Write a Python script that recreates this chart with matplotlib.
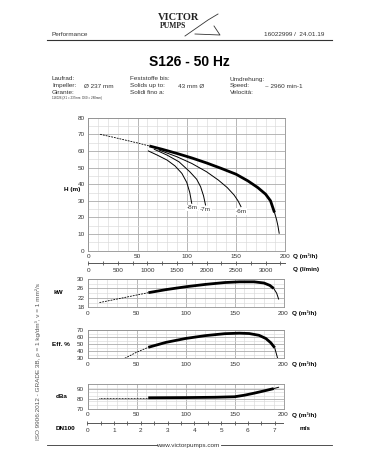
import numpy as np
import matplotlib
matplotlib.use('Agg')
import matplotlib.pyplot as plt
from matplotlib.ticker import MultipleLocator, FixedLocator

plt.rcParams['font.family'] = ['Liberation Sans', 'DejaVu Sans']

# --- data ---
q_head = [12, 25, 40, 50, 62, 75, 90, 105, 120, 135, 150, 162, 172, 180, 185, 189, 191, 192.5, 193.8]
head = [70, 68.3, 66.2, 64.8, 63, 61, 58.5, 55.8, 52.8, 49.5, 46, 42, 38, 34, 30, 23, 19, 15, 10.5]

q_npsh8 = [61, 70, 80, 88, 95, 100, 103, 105]
h_npsh8 = [60, 57.5, 54.5, 51, 46.5, 41, 35, 28.5]
q_npsh7 = [67, 80, 92, 103, 110, 114, 117, 119]
h_npsh7 = [61, 57.5, 53.5, 47.5, 43, 38.5, 33, 27.5]
q_npsh6 = [72, 90, 105, 120, 132, 141, 148, 152, 155]
h_npsh6 = [60.5, 56.5, 52.5, 47.5, 42.5, 38, 33.5, 30, 26.5]
npsh_labels = ['-8m', '-7m', '-6m']

q_power = [12, 30, 50, 62, 80, 100, 120, 140, 155, 170, 180, 186, 190, 193, 195]
power = [20, 21.5, 23.2, 24.2, 25.5, 26.7, 27.7, 28.5, 28.8, 28.8, 28.3, 27.3, 26, 24, 21.5]

q_eff = [38, 50, 62, 80, 100, 120, 140, 155, 165, 175, 182, 187, 191, 194]
eff = [30, 38.5, 45.5, 52.5, 58, 62, 64.8, 65.5, 65, 62.5, 58, 52, 45, 30]

q_noise = [12, 62, 100, 130, 150, 160, 170, 180, 190, 195]
noise = [81, 81, 81.2, 81.5, 82, 83.5, 85.5, 87.7, 90, 91.3]

FW, FH = 378, 472
fig = plt.figure(figsize=(FW / 100, FH / 100), dpi=100)

FS = 4.6
GREY = '#333333'


def box(l, t, r, b):
    return [l / FW, 1 - b / FH, (r - l) / FW, (b - t) / FH]


def px(x, y):
    return x / FW, 1 - y / FH


def chart(rect, ylim, yticks, yminor):
    ax = fig.add_axes(rect)
    ax.set_xlim(0, 200)
    ax.set_ylim(*ylim)
    ax.xaxis.set_major_locator(MultipleLocator(50))
    ax.xaxis.set_minor_locator(MultipleLocator(10))
    ax.yaxis.set_major_locator(FixedLocator(yticks))
    ax.yaxis.set_minor_locator(FixedLocator(yminor))
    ax.grid(which='minor', color='#d9d9d9', lw=0.45)
    ax.grid(which='major', color='#ababab', lw=0.6)
    ax.set_axisbelow(True)
    ax.tick_params(which='both', length=0, labelsize=FS, colors=GREY, pad=2.5)
    for s in ax.spines.values():
        s.set_color('#909090')
        s.set_linewidth(0.6)
    return ax


def curve(ax, q, v, lo, hi, dash=(0, (2.2, 1.2))):
    q = np.array(q)
    v = np.array(v)
    m1 = q <= lo
    m2 = (q >= lo) & (q <= hi)
    m3 = q >= hi
    ax.plot(q[m1], v[m1], color='k', lw=0.6, ls=dash)
    ax.plot(q[m2], v[m2], color='k', lw=2.0, solid_capstyle='butt')
    ax.plot(q[m3], v[m3], color='k', lw=0.7)


def scale_axis(rect, xlim, major, minor):
    ax = fig.add_axes(rect)
    ax.set_xlim(*xlim)
    ax.set_ylim(0, 1)
    ax.patch.set_visible(False)
    for k in ('top', 'left', 'right'):
        ax.spines[k].set_visible(False)
    ax.spines['bottom'].set_color('#555555')
    ax.spines['bottom'].set_linewidth(0.7)
    ax.set_yticks([])
    ax.xaxis.set_major_locator(MultipleLocator(major))
    ax.xaxis.set_minor_locator(MultipleLocator(minor))
    ax.tick_params(which='both', direction='inout', length=3, width=0.6,
                   color='#555555', labelsize=FS, labelcolor=GREY, pad=2)
    return ax


# --- header ---
fig.text(*px(158, 17.5), 'VICTOR', fontsize=7.5, fontweight='bold',
         family='Liberation Serif', va='center', ha='left', color='#222222')
fig.text(*px(160, 26.5), 'PUMPS', fontsize=5.5, fontweight='bold',
         family='Liberation Serif', va='center', ha='left', color='#222222')
fig.add_artist(plt.Line2D([185 / FW, 208 / FW, 218 / FW], [1 - 36 / FH, 1 - 20 / FH, 1 - 14 / FH],
                          color='#333333', lw=0.6))
fig.add_artist(plt.Line2D([195 / FW, 220 / FW, 214 / FW], [1 - 34 / FH, 1 - 35 / FH, 1 - 26 / FH],
                          color='#333333', lw=0.6))
fig.text(*px(52, 35), 'Performance', fontsize=FS, va='center', ha='left', color=GREY)
fig.text(*px(324, 35), '16022999 /  24.01.19', fontsize=FS, va='center', ha='right', color=GREY)
fig.add_artist(plt.Line2D([47 / FW, 332 / FW], [1 - 39.7 / FH] * 2, color='#333333', lw=0.8))
fig.text(*px(189.5, 61.5), 'S126 - 50 Hz', fontsize=10, fontweight='bold', ha='center', va='center')

info = [
    (52, 79, 'Laufrad:'), (52, 86, 'Impeller:'), (84, 86, 'Ø 237 mm'), (52, 93, 'Girante:'),
    (130, 79, 'Feststoffe bis:'), (130, 86, 'Solids up to:'), (178, 86, '43 mm Ø'),
    (130, 93, 'Solidi fino a:'),
    (230, 79, 'Umdrehung:'), (230, 86, 'Speed:'), (265, 86, '~ 2960 min-1'), (230, 93, 'Velocità:'),
]
for x, y, t in info:
    fig.text(*px(x, y), t, fontsize=FS, va='center', ha='left', color=GREY)
fig.text(*px(52, 98.5), '116026 (X1 = 237mm  D60 = 280mm)', fontsize=2.2, va='center', ha='left', color=GREY)

# --- head chart ---
ax_h = chart(box(88.3, 117.7, 285.3, 250.7), (0, 80), np.arange(0, 81, 10), np.arange(5, 80, 10))
curve(ax_h, q_head, head, 62, 189)
for q, h, lab in zip([q_npsh8, q_npsh7, q_npsh6], [h_npsh8, h_npsh7, h_npsh6], npsh_labels):
    ax_h.plot(q, h, color='k', lw=0.7)
    ax_h.text(q[-1], h[-1] - 2.8, lab, fontsize=FS, ha='center', va='center', color=GREY,
              bbox=dict(facecolor='white', edgecolor='none', pad=0.6))
fig.text(*px(80, 190), 'H (m)', fontsize=FS, fontweight='bold', ha='right', va='center')
fig.text(*px(293, 256.5), 'Q (m³/h)', fontsize=FS, fontweight='bold', ha='left', va='center')

ax_l = scale_axis(box(88.3, 261.7, 285.3, 262.7), (0, 200 * 1000 / 60), 500, 250)
fig.text(*px(293, 269.5), 'Q (l/min)', fontsize=FS, fontweight='bold', ha='left', va='center')

# --- power ---
ax_p = chart(box(87.7, 279, 283.5, 307.3), (18, 30), [18, 22, 26, 30], [20, 24, 28])
curve(ax_p, q_power, power, 62, 190)
fig.text(*px(58, 293), 'kW', fontsize=FS, fontweight='bold', ha='center', va='center')
fig.text(*px(292, 313), 'Q (m³/h)', fontsize=FS, fontweight='bold', ha='left', va='center')

# --- efficiency ---
ax_e = chart(box(87.5, 330, 283.5, 358.3), (30, 70), np.arange(30, 71, 10), np.arange(35, 70, 10))
curve(ax_e, q_eff, eff, 62, 191)
fig.text(*px(61, 344), 'Eff. %', fontsize=FS, fontweight='bold', ha='center', va='center')
fig.text(*px(292, 364.5), 'Q (m³/h)', fontsize=FS, fontweight='bold', ha='left', va='center')

# --- noise ---
ax_n = chart(box(87.5, 383.5, 283.5, 409), (70, 95), [70, 80, 90], np.linspace(70, 95, 7))
curve(ax_n, q_noise, noise, 62, 190, dash=(0, (1, 0.8)))
fig.text(*px(61.5, 396.5), 'dBa', fontsize=FS, fontweight='bold', ha='center', va='center')
fig.text(*px(292, 415), 'Q (m³/h)', fontsize=FS, fontweight='bold', ha='left', va='center')

# --- velocity DN100 ---
ax_v = scale_axis(box(87.3, 421.7, 283.5, 422.7), (0, 196.2 / 26.77), 1, 0.5)
fig.text(*px(65.5, 429), 'DN100', fontsize=FS, fontweight='bold', ha='center', va='center')
fig.text(*px(300, 429), 'm/s', fontsize=FS, fontweight='bold', ha='left', va='center')

fig.text(*px(38, 362), 'ISO 9906:2012 - GRADE 3B, ρ = 1 kg/dm³, ν = 1 mm²/s', fontsize=FS,
         rotation=90, ha='center', va='center', color='#555555')

# --- footer ---
fig.text(*px(188, 445), 'www.victorpumps.com', fontsize=FS, ha='center', va='center', color=GREY)
fig.add_artist(plt.Line2D([47 / FW, 157 / FW], [1 - 445 / FH] * 2, color='#333333', lw=0.6))
fig.add_artist(plt.Line2D([221 / FW, 332 / FW], [1 - 445 / FH] * 2, color='#333333', lw=0.6))

fig.savefig('out.png', dpi=100, facecolor='white')
